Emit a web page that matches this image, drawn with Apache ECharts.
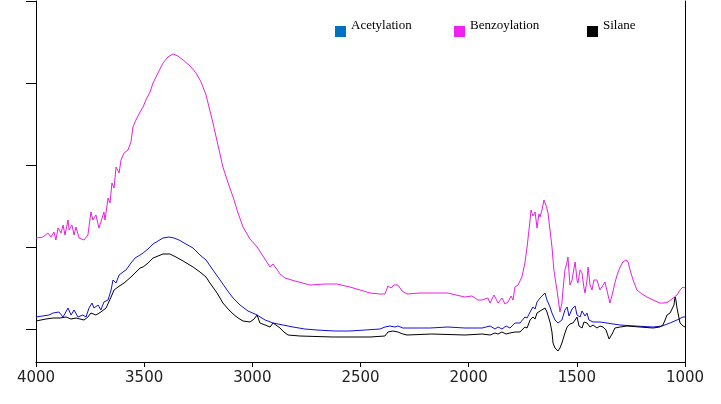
<!DOCTYPE html>
<html>
<head>
<meta charset="utf-8">
<script src="https://cdn.jsdelivr.net/npm/echarts@6/dist/echarts.min.js"></script>
<style>
html,body{margin:0;padding:0;background:#fff;}
#chart{width:721px;height:404px;}
</style>
</head>
<body>
<div id="chart"></div>
<script>
// Wavenumber axis (cm-1)
var xTicks = [4000, 3500, 3000, 2500, 2000, 1500, 1000];
var seriesNames = ['Acetylation', 'Benzoylation', 'Silane'];

// Benzoylation
var benzWn = [4000,3968,3945,3931,3917,3908,3898,3884,3875,3866,3852,3847,3834,3824,3815,3801,3792,3778,3760,3746,3737,3723,3709,3700,3686,3681,3667,3658,3649,3639,3630,3616,3607,3593,3575,3561,3552,3538,3529,3519,3505,3492,3473,3459,3436,3413,3390,3367,3344,3320,3288,3260,3237,3214,3182,3159,3136,3112,3089,3066,3043,3011,2978,2951,2918,2904,2891,2872,2849,2803,2733,2664,2609,2549,2502,2456,2410,2387,2373,2359,2345,2327,2308,2285,2225,2170,2096,2059,2017,1985,1957,1938,1911,1901,1883,1864,1846,1832,1818,1804,1795,1786,1772,1763,1754,1740,1730,1716,1712,1703,1693,1684,1675,1670,1661,1652,1647,1643,1633,1624,1615,1606,1592,1578,1569,1564,1555,1545,1541,1532,1522,1513,1508,1499,1495,1485,1476,1467,1462,1453,1448,1439,1430,1421,1407,1393,1384,1370,1361,1347,1337,1324,1314,1300,1287,1273,1263,1254,1240,1222,1199,1176,1148,1116,1097,1079,1060,1037,1023,1009,1000];
var benzVal = [124,125,129,125,130,122,134,129,137,127,142,132,137,127,135,124,125,122,127,150,142,147,134,140,150,142,164,159,179,174,195,189,202,209,212,220,235,242,240,250,255,262,270,279,289,299,305,308,306,302,296,289,280,267,239,217,195,179,165,149,135,123,115,106,95,98,94,88,84,81,77,78,78,75,72,69,68,68,76,74,77,77,71,68,69,69,69,67,65,66,62,62,64,59,67,59,64,58,60,66,62,75,77,75,85,99,115,142,152,146,150,134,148,145,152,162,164,157,149,132,115,92,72,50,59,72,92,100,105,77,82,94,100,82,79,92,89,74,69,82,95,77,72,82,82,72,75,80,82,59,67,79,87,95,100,102,100,92,82,72,68,65,62,59,59,60,63,67,72,75,74];

// Acetylation
var acetWn = [4000,3940,3921,3894,3875,3852,3838,3824,3806,3783,3769,3755,3741,3732,3713,3700,3686,3667,3653,3644,3630,3616,3598,3584,3561,3542,3519,3505,3482,3459,3436,3413,3385,3362,3339,3307,3274,3242,3214,3182,3149,3117,3089,3057,3020,2978,2941,2904,2858,2812,2757,2701,2618,2549,2479,2410,2387,2364,2341,2327,2304,2280,2179,2096,2017,1938,1901,1878,1864,1846,1827,1809,1786,1763,1740,1730,1716,1703,1693,1684,1670,1661,1647,1638,1624,1615,1601,1587,1578,1569,1555,1545,1536,1532,1522,1508,1499,1485,1476,1462,1453,1444,1425,1393,1361,1333,1300,1231,1148,1106,1069,1037,1009,1000];
var acetVal = [45,47,49,50,45,54,47,52,45,47,45,54,59,54,57,52,60,62,72,82,79,87,90,92,99,104,107,109,113,118,121,124,125,124,122,118,114,107,102,92,82,72,64,57,51,47,42,39,37,35,33,32,31,31,32,33,35,36,35,36,34,34,34,35,34,34,36,33,35,33,36,34,39,39,45,44,50,55,53,60,64,62,69,62,55,49,42,39,37,42,52,55,46,45,53,56,47,45,51,46,49,42,40,40,39,38,37,36,35,36,39,42,45,45];

// Silane
var silWn = [4000,3954,3921,3889,3861,3838,3815,3797,3778,3760,3746,3723,3700,3676,3653,3639,3621,3593,3561,3542,3519,3505,3482,3459,3436,3413,3399,3381,3353,3320,3274,3242,3214,3196,3163,3136,3112,3089,3066,3043,3011,2992,2978,2965,2941,2918,2904,2891,2872,2854,2835,2780,2627,2456,2387,2373,2350,2327,2304,2285,2170,2017,1938,1901,1878,1864,1846,1827,1809,1786,1763,1740,1730,1716,1703,1693,1684,1670,1661,1647,1638,1624,1615,1610,1601,1587,1578,1569,1555,1545,1532,1518,1508,1499,1490,1476,1467,1453,1439,1425,1407,1393,1379,1365,1351,1337,1324,1300,1268,1208,1148,1116,1102,1092,1083,1069,1060,1051,1046,1042,1037,1023,1009,1000];
var silVal = [41,43,44,44,45,43,44,43,42,45,49,47,50,54,65,72,75,79,85,89,94,95,99,104,106,108,108,108,105,101,95,90,85,79,69,59,53,48,44,41,40,43,47,39,37,35,39,37,34,30,27,26,25,25,26,30,31,30,28,27,28,27,28,27,29,28,30,28,29,30,30,35,34,42,45,43,49,51,50,54,50,40,30,19,14,11,14,19,29,35,38,39,42,45,36,34,40,39,35,37,34,36,35,32,23,28,34,35,36,35,34,35,37,42,47,49,49,57,65,62,54,39,36,35];

// Y tick positions (arbitrary intensity units)
var yTicks = [33, 115, 197, 279, 361];

function pairs(wn, val) {
  var out = [];
  for (var i = 0; i < wn.length; i++) out.push([wn[i], val[i]]);
  return out;
}

var chart = echarts.init(document.getElementById('chart'), null, {renderer: 'canvas'});

function legendAt(name, color, left) {
  return {
    show: true,
    left: left,
    top: 19,
    padding: 0,
    itemWidth: 11,
    itemHeight: 11,
    icon: 'rect',
    selectedMode: false,
    data: [{name: name, itemStyle: {color: color}}],
    formatter: '{t|{name}}',
    textStyle: {
      fontFamily: 'Liberation Serif',
      fontSize: 13,
      color: '#000',
      rich: {
        t: {
          fontFamily: 'Liberation Serif',
          fontSize: 13,
          color: '#000',
          padding: [0, 0, 12, 0]
        }
      }
    }
  };
}

chart.setOption({
  animation: false,
  backgroundColor: '#fff',
  legend: [
    legendAt(seriesNames[0], '#0070c0', 335),
    legendAt(seriesNames[1], '#f020f0', 454),
    legendAt(seriesNames[2], '#000000', 587)
  ],
  grid: {left: 36, right: 36, top: 1, bottom: 42, containLabel: false},
  xAxis: {
    type: 'value',
    inverse: true,
    min: 1000,
    max: 4000,
    interval: 500,
    axisLine: {show: true, lineStyle: {color: '#000', width: 1}},
    axisTick: {show: true, length: 5, inside: false, lineStyle: {color: '#000'}},
    axisLabel: {
      show: true,
      margin: 9,
      fontFamily: 'DejaVu Sans',
      fontSize: 15,
      color: '#222',
      formatter: function (v) { return xTicks.indexOf(v) >= 0 ? String(v) : ''; }
    },
    splitLine: {show: false}
  },
  yAxis: [{
    type: 'value',
    min: 0,
    max: 361,
    position: 'left',
    axisLine: {show: true, lineStyle: {color: '#000', width: 1}},
    axisTick: {show: true, length: 10, inside: false, customValues: yTicks, lineStyle: {color: '#000'}},
    axisLabel: {show: false},
    splitLine: {show: false}
  }, {
    type: 'value',
    min: 0,
    max: 361,
    position: 'right',
    axisLine: {show: true, lineStyle: {color: '#000', width: 1}},
    axisTick: {show: false},
    axisLabel: {show: false},
    splitLine: {show: false}
  }],
  series: [
    {
      name: seriesNames[1], type: 'line', yAxisIndex: 0, showSymbol: false, symbol: 'none',
      data: pairs(benzWn, benzVal), lineStyle: {color: '#e81ee8', width: 1}, itemStyle: {color: '#f020f0'}
    },
    {
      name: seriesNames[0], type: 'line', yAxisIndex: 0, showSymbol: false, symbol: 'none',
      data: pairs(acetWn, acetVal), lineStyle: {color: '#1010e0', width: 1}, itemStyle: {color: '#0070c0'}
    },
    {
      name: seriesNames[2], type: 'line', yAxisIndex: 0, showSymbol: false, symbol: 'none',
      data: pairs(silWn, silVal), lineStyle: {color: '#000', width: 1}, itemStyle: {color: '#000'}
    }
  ]
});
</script>
</body>
</html>
